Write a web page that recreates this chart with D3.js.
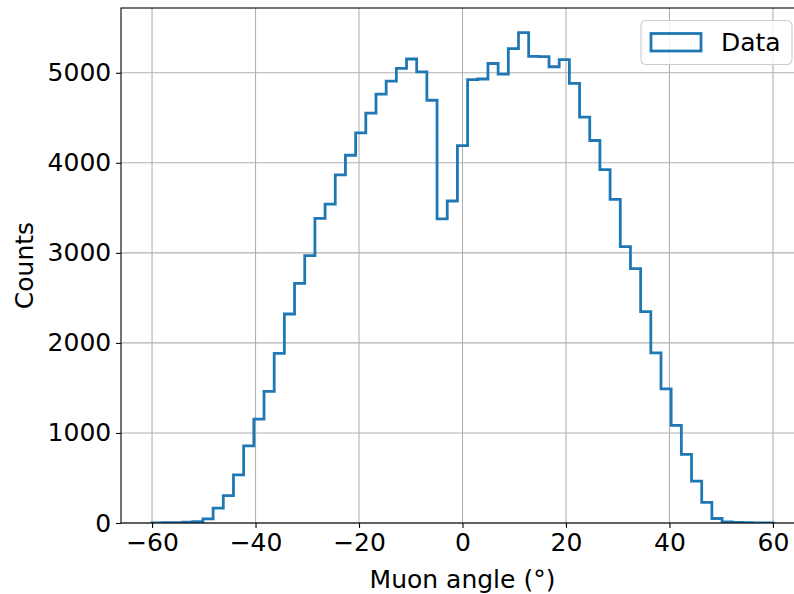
<!DOCTYPE html>
<html>
<head>
<meta charset="utf-8">
<script src="https://cdn.jsdelivr.net/npm/d3@7"></script>
<style>
    body { margin: 0; background: white; }
    text { font-family: "DejaVu Sans", sans-serif; }
</style>
</head>
<body>
<script>
// muon angle histogram

var bin_start = -60;
var bin_end = 60;
var counts = [
    2, 3, 5, 10, 15, 45, 165, 305, 534, 857,
    1153, 1462, 1885, 2321, 2660, 2969, 3382, 3542, 3865, 4084,
    4332, 4553, 4763, 4908, 5050, 5153, 5011, 4695, 3378, 3576,
    4191, 4924, 4931, 5103, 4985, 5267, 5447, 5183, 5180, 5067,
    5145, 4882, 4508, 4248, 3924, 3595, 3069, 2824, 2347, 1889,
    1489, 1084, 763, 466, 229, 50, 11, 7, 4, 2,
    1
];
var x_ticks = [-60, -40, -20, 0, 20, 40, 60];
var y_ticks = [0, 1000, 2000, 3000, 4000, 5000];
var x_label = "Muon angle (°)";
var y_label = "Counts";
var legend_label = "Data";

var width = 794, height = 594;
var ax_left = 121, ax_right = 804, ax_top = 8, ax_bottom = 523;
var fs = 25;
var blue = "#1f77b4";

var svg = d3.select("body").append("svg")
    .attr("width", width)
    .attr("height", height);

var bin_w = (bin_end - bin_start) / counts.length;
var edges = d3.range(counts.length + 1).map(function(i) { return bin_start + i * bin_w });

var pad = (bin_end - bin_start) * 0.05;
var x = d3.scaleLinear().domain([bin_start - pad, bin_end + pad]).range([ax_left, ax_right]);
var y = d3.scaleLinear().domain([0, d3.max(counts) * 1.05]).range([ax_bottom, ax_top]);

svg.append("clipPath").attr("id", "clip")
    .append("rect")
    .attr("x", ax_left).attr("y", ax_top)
    .attr("width", ax_right - ax_left).attr("height", ax_bottom - ax_top);

// ====== GRID ======
svg.append("g")
    .selectAll("line.gx")
    .data(x_ticks)
    .enter().append("line")
        .attr("x1", function(d) { return x(d) })
        .attr("x2", function(d) { return x(d) })
        .attr("y1", ax_top).attr("y2", ax_bottom)
        .style("stroke", "#b0b0b0").style("stroke-width", 1.1);

svg.append("g")
    .selectAll("line.gy")
    .data(y_ticks)
    .enter().append("line")
        .attr("x1", ax_left).attr("x2", ax_right)
        .attr("y1", function(d) { return y(d) })
        .attr("y2", function(d) { return y(d) })
        .style("stroke", "#b0b0b0").style("stroke-width", 1.1);

// ====== HISTOGRAM ======
var pts = [[edges[0], 0]];
for (var i = 0; i < counts.length; i++) {
    pts.push([edges[i], counts[i]]);
    pts.push([edges[i + 1], counts[i]]);
}
pts.push([edges[counts.length], 0]);

var line = d3.line()
    .x(function(d) { return x(d[0]) })
    .y(function(d) { return y(d[1]) });

svg.append("path")
    .attr("d", line(pts))
    .attr("clip-path", "url(#clip)")
    .style("fill", "none")
    .style("stroke", blue)
    .style("stroke-width", 2.78)
    .style("stroke-linejoin", "miter");

// ====== AXES ======
var x_axis = svg.append("g")
    .attr("transform", "translate(0," + ax_bottom + ")")
    .call(d3.axisBottom(x).tickValues(x_ticks).tickSize(4.9).tickPadding(4.9));

var y_axis = svg.append("g")
    .attr("transform", "translate(" + ax_left + ",0)")
    .call(d3.axisLeft(y).tickValues(y_ticks).tickFormat(d3.format("d")).tickSize(4.9).tickPadding(4.9));

[x_axis, y_axis].forEach(function(a) {
    a.select(".domain").remove();
    a.selectAll(".tick line").style("stroke", "black").style("stroke-width", 1.1);
    a.selectAll(".tick text")
        .style("font-family", "DejaVu Sans")
        .style("font-size", fs + "px")
        .style("fill", "black");
});

// spines
svg.append("rect")
    .attr("x", ax_left).attr("y", ax_top)
    .attr("width", ax_right - ax_left).attr("height", ax_bottom - ax_top)
    .style("fill", "none")
    .style("stroke", "black")
    .style("stroke-width", 1.1);

// labels
svg.append("text")
    .attr("x", (ax_left + ax_right) / 2)
    .attr("y", 588)
    .attr("text-anchor", "middle")
    .style("font-size", fs + "px")
    .text(x_label);

svg.append("text")
    .attr("transform", "translate(33," + ((ax_top + ax_bottom) / 2) + ") rotate(-90)")
    .attr("text-anchor", "middle")
    .style("font-size", fs + "px")
    .text(y_label);

// ====== LEGEND ======
var lg = svg.append("g");
lg.append("rect")
    .attr("x", 641).attr("y", 20.5)
    .attr("width", 151).attr("height", 44)
    .attr("rx", 5)
    .style("fill", "white").style("fill-opacity", 0.8)
    .style("stroke", "#cccccc").style("stroke-width", 1.1);

lg.append("rect")
    .attr("x", 651).attr("y", 33.5)
    .attr("width", 50).attr("height", 17.5)
    .style("fill", "none")
    .style("stroke", blue)
    .style("stroke-width", 2.78);

lg.append("text")
    .attr("x", 721).attr("y", 51)
    .style("font-size", fs + "px")
    .text(legend_label);
</script>
</body>
</html>
